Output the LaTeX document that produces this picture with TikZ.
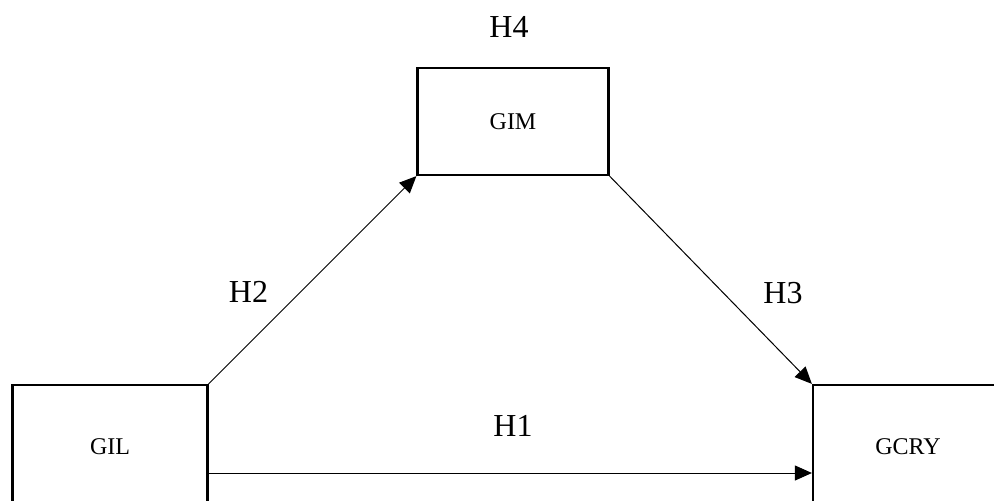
\documentclass[tikz,border=0pt]{standalone}
\usepackage{fontspec}
\setmainfont{Liberation Serif}
\usetikzlibrary{arrows.meta}
\begin{document}
\begin{tikzpicture}[x=1pt,y=-1pt,
  box/.style={draw=black,line width=2.2pt,minimum width=#1,inner sep=0pt,font=\fontsize{24}{24}\selectfont},
  hlab/.style={font=\fontsize{32}{32}\selectfont,inner sep=0pt},
  conn/.style={line width=1pt,-{Triangle[length=17pt,width=15pt]}}]
\useasboundingbox (0,0) rectangle (994,501);
\clip (0,0) rectangle (994,501);
\fill[white] (0,0) rectangle (994,501);
\node[box=195pt,minimum height=124pt] (gil) at (110,447) {GIL};
\node[box=190pt,minimum height=124pt] (gcry) at (908,447) {GCRY};
\node[box=191pt,minimum height=107pt] (gim) at (513,121.5) {GIM};
\draw[conn] (gil.north east) -- (gim.south west);
\draw[conn] (gim.south east) -- (gcry.north west);
\draw[conn] ([yshift=-26pt]gil.east) -- ([yshift=-26pt]gcry.west);
\node[hlab] (h4) at (509,27) {H4};
\node[hlab] (h2) at (248.5,292) {H2};
\node[hlab] (h3) at (783,293) {H3};
\node[hlab] (h1) at (513,426) {H1};
\end{tikzpicture}
\end{document}
